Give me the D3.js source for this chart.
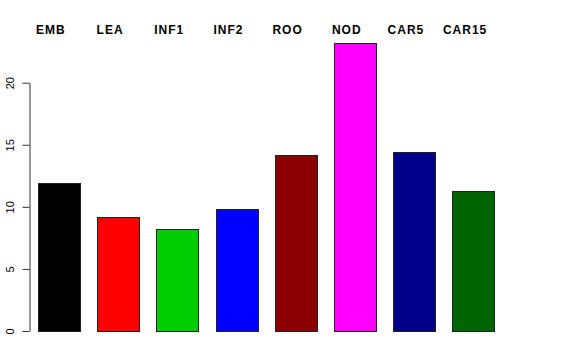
<!DOCTYPE html>
<html>
<head>
<meta charset="utf-8">
<script src="https://cdn.jsdelivr.net/npm/d3@7"></script>
<style>
  body { margin: 0; background: #fff; }
  text { font-family: "Liberation Sans", Arial, sans-serif; }
</style>
</head>
<body>
<svg width="576" height="360"></svg>
<script>
// data
var categories = ["EMB", "LEA", "INF1", "INF2", "ROO", "NOD", "CAR5", "CAR15"];
var values = [11.9, 9.2, 8.2, 9.8, 14.2, 23.2, 14.4, 11.3];
var barColors = ["#000000", "#FF0000", "#00CD00", "#0000FF", "#8B0000", "#FF00FF", "#00008B", "#006400"];
var yTicks = [0, 5, 10, 15, 20];

var svg = d3.select('svg');

// scales
var xScale = d3.scaleBand().domain(categories).range([38, 494]).paddingInner(0.293).paddingOuter(0);
var yScale = d3.scaleLinear().domain([0, 20]).range([331, 82.7]);

// bars
svg.selectAll('rect.bar')
  .data(values)
  .enter()
  .append('rect')
  .attr('class', 'bar')
  .attr('x', (d, i) => Math.round(xScale(categories[i])) + 0.5)
  .attr('y', d => Math.round(yScale(d)) + 0.5)
  .attr('width', Math.round(xScale.bandwidth()))
  .attr('height', d => Math.round(yScale(0)) - Math.round(yScale(d)))
  .attr('fill', (d, i) => barColors[i])
  .attr('stroke', '#222')
  .attr('stroke-width', 1);

// labels on top
svg.selectAll('text.lab')
  .data(categories)
  .enter()
  .append('text')
  .attr('class', 'lab')
  .attr('x', d => xScale(d) + xScale.bandwidth() / 2 - 8)
  .attr('y', 34)
  .attr('text-anchor', 'middle')
  .attr('font-size', '12px')
  .attr('font-weight', 'bold')
  .attr('letter-spacing', '1px')
  .text(d => d);

// y axis, R style
var yAxisGroup = svg.append('g')
  .attr('transform', 'translate(29.5,0)');
var yAxis = d3.axisLeft(yScale).tickValues(yTicks).tickSize(7).tickSizeOuter(0).tickPadding(0);
yAxisGroup.call(yAxis);
yAxisGroup.select('.domain').attr('stroke', '#333');
yAxisGroup.selectAll('.tick line').attr('stroke', '#333');
yAxisGroup.selectAll('.tick text')
  .attr('x', 0).attr('y', 0).attr('dy', 0)
  .attr('transform', 'translate(-15.5,0) rotate(-90)')
  .attr('text-anchor', 'middle')
  .attr('font-size', '11px')
  .attr('font-family', '"Liberation Sans", Arial, sans-serif')
  .attr('fill', '#000');
</script>
</body>
</html>
